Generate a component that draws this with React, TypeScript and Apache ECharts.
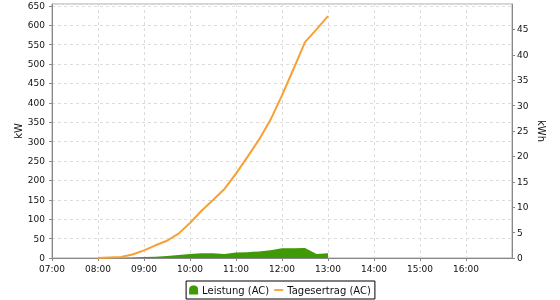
import React, { useEffect, useRef } from "react";
import * as echarts from "echarts";

const times = [
  "08:00", "08:15", "08:30", "08:45", "09:00", "09:15", "09:30", "09:45",
  "10:00", "10:15", "10:30", "10:45", "11:00", "11:15", "11:30", "11:45",
  "12:00", "12:15", "12:30", "12:45", "13:00",
];
const leistung = [0, 0, 0.5, 1, 2.5, 3.5, 5, 8, 10, 12, 12.5, 10, 14, 15, 17, 20, 25, 25, 26, 10, 12];
const tagesertrag = [0, 0.1, 0.2, 0.7, 1.5, 2.5, 3.4, 4.8, 6.9, 9.3, 11.4, 13.6, 16.6, 19.9, 23.3, 27.2, 32.0, 37.2, 42.5, 45.0, 47.6];

const toHours = (t: string) => {
  const [h, m] = t.split(":").map(Number);
  return h + m / 60;
};
const fmtHour = (v: number) => `${String(Math.round(v)).padStart(2, "0")}:00`;

const FONT = "DejaVu Sans";

export default function App() {
  const ref = useRef<HTMLDivElement>(null);
  useEffect(() => {
    if (!ref.current) return;
    const chart = echarts.init(ref.current, undefined, { renderer: "svg" });
    chart.setOption({
      animation: false,
      textStyle: { fontFamily: FONT },
      grid: {
        left: 52,
        right: 48,
        top: 4,
        bottom: 42,
        show: true,
        containLabel: false,
        outerBoundsMode: "none",
        borderColor: "#aaaaaa",
        borderWidth: 1,
      },
      legend: {
        bottom: 1,
        left: "center",
        borderColor: "#000",
        borderWidth: 1,
        padding: [4, 4, 4, 3],
        itemGap: 5,
        itemWidth: 9,
        itemHeight: 10,
        textStyle: { fontFamily: FONT, fontSize: 10, color: "#111", padding: [0, 0, 0, -1] },
        data: [
          { name: "Leistung (AC)", icon: "path://M0,10 L0,5 C0,1 2,0 5,0 C8,0 10,1 10,5 L10,10 Z" },
          { name: "Tagesertrag (AC)", icon: "path://M0,4 L10,4 L10,6 L0,6 Z" },
        ],
      },
      xAxis: {
        type: "value",
        min: 7,
        max: 17,
        interval: 1,
        axisLine: { show: true, lineStyle: { color: "#888" } },
        axisTick: { show: true, length: 3, lineStyle: { color: "#888" } },
        axisLabel: {
          showMaxLabel: false,
          formatter: (v: number) => fmtHour(v),
          fontSize: 9,
          color: "#111",
          margin: 6,
        },
        splitLine: { show: true, lineStyle: { color: "#dddddd", type: [3, 3] } },
      },
      yAxis: [
        {
          type: "value",
          min: 0,
          max: 655,
          interval: 50,
          name: "kW",
          nameLocation: "middle",
          nameGap: 29,
          nameMoveOverlap: false,
          nameTextStyle: { fontSize: 10, color: "#111" },
          axisLine: { show: true, lineStyle: { color: "#888" } },
          axisTick: { show: true, length: 3, lineStyle: { color: "#888" } },
          axisLabel: { showMaxLabel: false, fontSize: 9, color: "#111", margin: 7 },
          splitLine: { show: true, lineStyle: { color: "#dddddd", type: [3, 3] } },
        },
        {
          type: "value",
          min: 0,
          max: 50,
          interval: 5,
          position: "right",
          name: "kWh",
          nameLocation: "middle",
          nameGap: 24,
          nameMoveOverlap: false,
          nameRotate: -90,
          nameTextStyle: { fontSize: 10, color: "#111" },
          axisLine: { show: true, lineStyle: { color: "#888" } },
          axisTick: { show: true, length: 3, lineStyle: { color: "#888" } },
          axisLabel: { showMaxLabel: false, fontSize: 9, color: "#111", margin: 5 },
          splitLine: { show: false },
        },
      ],
      series: [
        {
          name: "Leistung (AC)",
          type: "line",
          yAxisIndex: 0,
          symbol: "none",
          showSymbol: false,
          itemStyle: { color: "#3f9a06" },
          lineStyle: { width: 0, color: "#3f9a06" },
          areaStyle: { color: "#3f9a06", opacity: 1 },
          data: times.map((t, i) => [toHours(t), leistung[i]]),
        },
        {
          name: "Tagesertrag (AC)",
          type: "line",
          yAxisIndex: 1,
          symbol: "none",
          showSymbol: false,
          itemStyle: { color: "#f8a033" },
          lineStyle: { width: 2, color: "#f8a033" },
          data: times.map((t, i) => [toHours(t), tagesertrag[i]]),
        },
      ],
    });
    return () => chart.dispose();
  }, []);
  return (
    <div
      ref={ref}
      style={{ position: "fixed", left: 0, top: 0, width: 560, height: 300 }}
    />
  );
}
